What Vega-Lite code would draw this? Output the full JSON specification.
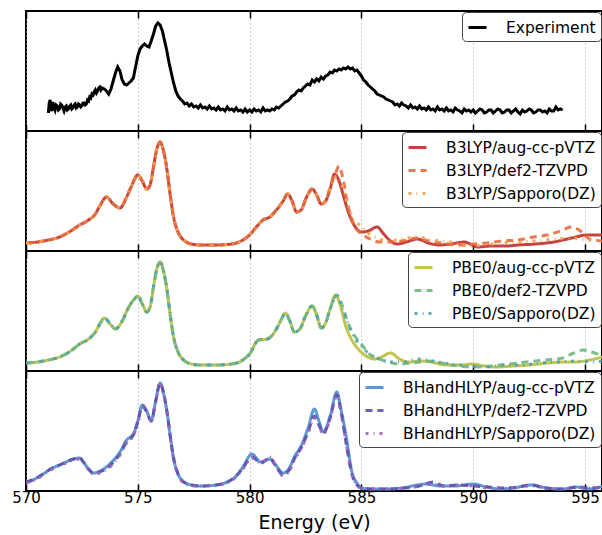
{
"$schema": "https://vega.github.io/schema/vega-lite/v6.json",
"padding": {"left": 10, "top": 9, "right": 0, "bottom": 0},
"background": "white",
"spacing": 0,
"bounds": "flush",
"config": {
  "view": {"stroke": "black", "strokeWidth": 2},
  "font": "DejaVu Sans",
  "axis": {"domain": false, "tickColor": "black", "tickWidth": 1.5, "tickSize": -7, "labelFlush": false, "labelFont": "DejaVu Sans", "labelFontSize": 15, "labelColor": "black", "titleFont": "DejaVu Sans", "titleFontSize": 19, "titleFontWeight": "normal", "titleColor": "black", "gridColor": "#999", "gridDash": [1, 3], "gridWidth": 1},
  "legend": {"orient": "top-right", "offset": 1, "fillColor": "white", "strokeColor": "#444", "cornerRadius": 4, "padding": 5, "symbolType": "stroke", "symbolSize": 324, "symbolStrokeWidth": 3, "labelFont": "DejaVu Sans", "labelFontSize": 15.5, "labelColor": "black", "labelLimit": 400, "labelOffset": 18, "rowPadding": 4, "title": null}
},
"datasets": {
"p1": [
{"s":"Experiment","x":571.0,"y":18},{"s":"Experiment","x":571.04,"y":28},{"s":"Experiment","x":571.08,"y":31},{"s":"Experiment","x":571.12,"y":22},{"s":"Experiment","x":571.15,"y":20},{"s":"Experiment","x":571.2,"y":29},{"s":"Experiment","x":571.25,"y":24},{"s":"Experiment","x":571.3,"y":21},{"s":"Experiment","x":571.35,"y":26},{"s":"Experiment","x":571.4,"y":25},{"s":"Experiment","x":571.45,"y":21},{"s":"Experiment","x":571.5,"y":22},{"s":"Experiment","x":571.55,"y":27},{"s":"Experiment","x":571.6,"y":26},{"s":"Experiment","x":571.65,"y":23},{"s":"Experiment","x":571.7,"y":20},{"s":"Experiment","x":571.75,"y":24},{"s":"Experiment","x":571.8,"y":25},{"s":"Experiment","x":571.85,"y":21},{"s":"Experiment","x":571.9,"y":22},{"s":"Experiment","x":571.95,"y":25},{"s":"Experiment","x":572.0,"y":26},{"s":"Experiment","x":572.05,"y":22},{"s":"Experiment","x":572.1,"y":23},{"s":"Experiment","x":572.15,"y":26},{"s":"Experiment","x":572.2,"y":27},{"s":"Experiment","x":572.25,"y":23},{"s":"Experiment","x":572.3,"y":24},{"s":"Experiment","x":572.35,"y":27},{"s":"Experiment","x":572.4,"y":26},{"s":"Experiment","x":572.45,"y":24},{"s":"Experiment","x":572.5,"y":25},{"s":"Experiment","x":572.55,"y":28},{"s":"Experiment","x":572.6,"y":28},{"s":"Experiment","x":572.65,"y":26},{"s":"Experiment","x":572.7,"y":27},{"s":"Experiment","x":572.75,"y":31},{"s":"Experiment","x":572.8,"y":30},{"s":"Experiment","x":572.85,"y":34},{"s":"Experiment","x":572.9,"y":33},{"s":"Experiment","x":572.95,"y":37},{"s":"Experiment","x":573.0,"y":36},{"s":"Experiment","x":573.05,"y":39},{"s":"Experiment","x":573.1,"y":41},{"s":"Experiment","x":573.15,"y":38},{"s":"Experiment","x":573.2,"y":40},{"s":"Experiment","x":573.25,"y":43},{"s":"Experiment","x":573.3,"y":44},{"s":"Experiment","x":573.35,"y":41},{"s":"Experiment","x":573.4,"y":43},{"s":"Experiment","x":573.5,"y":42},{"s":"Experiment","x":573.6,"y":40},{"s":"Experiment","x":573.7,"y":37},{"s":"Experiment","x":573.8,"y":42},{"s":"Experiment","x":573.9,"y":50},{"s":"Experiment","x":574.0,"y":58},{"s":"Experiment","x":574.1,"y":64},{"s":"Experiment","x":574.2,"y":60},{"s":"Experiment","x":574.3,"y":51},{"s":"Experiment","x":574.4,"y":47},{"s":"Experiment","x":574.5,"y":46},{"s":"Experiment","x":574.6,"y":48},{"s":"Experiment","x":574.7,"y":50},{"s":"Experiment","x":574.8,"y":53},{"s":"Experiment","x":574.9,"y":64},{"s":"Experiment","x":575.0,"y":75},{"s":"Experiment","x":575.1,"y":82},{"s":"Experiment","x":575.2,"y":85},{"s":"Experiment","x":575.3,"y":87},{"s":"Experiment","x":575.4,"y":85},{"s":"Experiment","x":575.5,"y":84},{"s":"Experiment","x":575.6,"y":90},{"s":"Experiment","x":575.7,"y":97},{"s":"Experiment","x":575.8,"y":105},{"s":"Experiment","x":575.9,"y":108},{"s":"Experiment","x":576.0,"y":106},{"s":"Experiment","x":576.1,"y":100},{"s":"Experiment","x":576.2,"y":90},{"s":"Experiment","x":576.3,"y":80},{"s":"Experiment","x":576.4,"y":68},{"s":"Experiment","x":576.5,"y":58},{"s":"Experiment","x":576.6,"y":48},{"s":"Experiment","x":576.7,"y":40},{"s":"Experiment","x":576.8,"y":35},{"s":"Experiment","x":576.9,"y":32},{"s":"Experiment","x":577.0,"y":30},{"s":"Experiment","x":577.1,"y":27},{"s":"Experiment","x":577.2,"y":28},{"s":"Experiment","x":577.3,"y":25},{"s":"Experiment","x":577.4,"y":27},{"s":"Experiment","x":577.5,"y":24},{"s":"Experiment","x":577.6,"y":25},{"s":"Experiment","x":577.7,"y":23},{"s":"Experiment","x":577.8,"y":26},{"s":"Experiment","x":577.9,"y":23},{"s":"Experiment","x":578.0,"y":24},{"s":"Experiment","x":578.1,"y":22},{"s":"Experiment","x":578.2,"y":25},{"s":"Experiment","x":578.3,"y":22},{"s":"Experiment","x":578.4,"y":23},{"s":"Experiment","x":578.5,"y":21},{"s":"Experiment","x":578.6,"y":24},{"s":"Experiment","x":578.7,"y":21},{"s":"Experiment","x":578.8,"y":22},{"s":"Experiment","x":578.9,"y":20},{"s":"Experiment","x":579.0,"y":24},{"s":"Experiment","x":579.1,"y":21},{"s":"Experiment","x":579.2,"y":22},{"s":"Experiment","x":579.3,"y":20},{"s":"Experiment","x":579.4,"y":23},{"s":"Experiment","x":579.5,"y":20},{"s":"Experiment","x":579.6,"y":21},{"s":"Experiment","x":579.7,"y":19},{"s":"Experiment","x":579.8,"y":22},{"s":"Experiment","x":579.9,"y":19},{"s":"Experiment","x":580.0,"y":21},{"s":"Experiment","x":580.1,"y":19},{"s":"Experiment","x":580.2,"y":22},{"s":"Experiment","x":580.3,"y":20},{"s":"Experiment","x":580.4,"y":21},{"s":"Experiment","x":580.5,"y":19},{"s":"Experiment","x":580.6,"y":23},{"s":"Experiment","x":580.7,"y":20},{"s":"Experiment","x":580.8,"y":21},{"s":"Experiment","x":580.9,"y":20},{"s":"Experiment","x":581.0,"y":22},{"s":"Experiment","x":581.1,"y":21},{"s":"Experiment","x":581.2,"y":24},{"s":"Experiment","x":581.3,"y":23},{"s":"Experiment","x":581.4,"y":25},{"s":"Experiment","x":581.5,"y":27},{"s":"Experiment","x":581.6,"y":29},{"s":"Experiment","x":581.7,"y":30},{"s":"Experiment","x":581.8,"y":32},{"s":"Experiment","x":581.9,"y":35},{"s":"Experiment","x":582.0,"y":36},{"s":"Experiment","x":582.1,"y":39},{"s":"Experiment","x":582.2,"y":41},{"s":"Experiment","x":582.3,"y":40},{"s":"Experiment","x":582.4,"y":43},{"s":"Experiment","x":582.5,"y":45},{"s":"Experiment","x":582.6,"y":47},{"s":"Experiment","x":582.7,"y":46},{"s":"Experiment","x":582.8,"y":51},{"s":"Experiment","x":582.9,"y":49},{"s":"Experiment","x":583.0,"y":52},{"s":"Experiment","x":583.1,"y":50},{"s":"Experiment","x":583.2,"y":54},{"s":"Experiment","x":583.3,"y":52},{"s":"Experiment","x":583.4,"y":55},{"s":"Experiment","x":583.5,"y":56},{"s":"Experiment","x":583.6,"y":59},{"s":"Experiment","x":583.7,"y":58},{"s":"Experiment","x":583.8,"y":61},{"s":"Experiment","x":583.9,"y":60},{"s":"Experiment","x":584.0,"y":62},{"s":"Experiment","x":584.1,"y":61},{"s":"Experiment","x":584.2,"y":63},{"s":"Experiment","x":584.3,"y":62},{"s":"Experiment","x":584.4,"y":64},{"s":"Experiment","x":584.5,"y":62},{"s":"Experiment","x":584.6,"y":63},{"s":"Experiment","x":584.7,"y":60},{"s":"Experiment","x":584.8,"y":61},{"s":"Experiment","x":584.9,"y":58},{"s":"Experiment","x":585.0,"y":55},{"s":"Experiment","x":585.1,"y":51},{"s":"Experiment","x":585.2,"y":49},{"s":"Experiment","x":585.3,"y":46},{"s":"Experiment","x":585.4,"y":44},{"s":"Experiment","x":585.5,"y":42},{"s":"Experiment","x":585.6,"y":40},{"s":"Experiment","x":585.7,"y":37},{"s":"Experiment","x":585.8,"y":36},{"s":"Experiment","x":585.9,"y":35},{"s":"Experiment","x":586.0,"y":34},{"s":"Experiment","x":586.1,"y":32},{"s":"Experiment","x":586.2,"y":31},{"s":"Experiment","x":586.3,"y":30},{"s":"Experiment","x":586.4,"y":29},{"s":"Experiment","x":586.5,"y":26},{"s":"Experiment","x":586.6,"y":27},{"s":"Experiment","x":586.7,"y":25},{"s":"Experiment","x":586.8,"y":28},{"s":"Experiment","x":586.9,"y":26},{"s":"Experiment","x":587.0,"y":25},{"s":"Experiment","x":587.1,"y":23},{"s":"Experiment","x":587.2,"y":26},{"s":"Experiment","x":587.3,"y":23},{"s":"Experiment","x":587.4,"y":24},{"s":"Experiment","x":587.5,"y":22},{"s":"Experiment","x":587.6,"y":25},{"s":"Experiment","x":587.7,"y":22},{"s":"Experiment","x":587.8,"y":23},{"s":"Experiment","x":587.9,"y":21},{"s":"Experiment","x":588.0,"y":24},{"s":"Experiment","x":588.1,"y":21},{"s":"Experiment","x":588.2,"y":22},{"s":"Experiment","x":588.3,"y":20},{"s":"Experiment","x":588.4,"y":24},{"s":"Experiment","x":588.5,"y":21},{"s":"Experiment","x":588.6,"y":22},{"s":"Experiment","x":588.7,"y":20},{"s":"Experiment","x":588.8,"y":23},{"s":"Experiment","x":588.9,"y":20},{"s":"Experiment","x":589.0,"y":21},{"s":"Experiment","x":589.1,"y":19},{"s":"Experiment","x":589.2,"y":23},{"s":"Experiment","x":589.3,"y":21},{"s":"Experiment","x":589.4,"y":20},{"s":"Experiment","x":589.5,"y":18},{"s":"Experiment","x":589.6,"y":22},{"s":"Experiment","x":589.7,"y":20},{"s":"Experiment","x":589.8,"y":21},{"s":"Experiment","x":589.9,"y":19},{"s":"Experiment","x":590.0,"y":21},{"s":"Experiment","x":590.1,"y":18},{"s":"Experiment","x":590.2,"y":20},{"s":"Experiment","x":590.3,"y":22},{"s":"Experiment","x":590.4,"y":21},{"s":"Experiment","x":590.5,"y":18},{"s":"Experiment","x":590.6,"y":19},{"s":"Experiment","x":590.7,"y":21},{"s":"Experiment","x":590.8,"y":21},{"s":"Experiment","x":590.9,"y":18},{"s":"Experiment","x":591.0,"y":20},{"s":"Experiment","x":591.1,"y":22},{"s":"Experiment","x":591.2,"y":21},{"s":"Experiment","x":591.3,"y":18},{"s":"Experiment","x":591.4,"y":19},{"s":"Experiment","x":591.5,"y":21},{"s":"Experiment","x":591.6,"y":21},{"s":"Experiment","x":591.7,"y":18},{"s":"Experiment","x":591.8,"y":20},{"s":"Experiment","x":591.9,"y":22},{"s":"Experiment","x":592.0,"y":19},{"s":"Experiment","x":592.1,"y":17},{"s":"Experiment","x":592.2,"y":21},{"s":"Experiment","x":592.3,"y":19},{"s":"Experiment","x":592.4,"y":20},{"s":"Experiment","x":592.5,"y":22},{"s":"Experiment","x":592.6,"y":21},{"s":"Experiment","x":592.7,"y":18},{"s":"Experiment","x":592.8,"y":19},{"s":"Experiment","x":592.9,"y":21},{"s":"Experiment","x":593.0,"y":21},{"s":"Experiment","x":593.1,"y":19},{"s":"Experiment","x":593.2,"y":20},{"s":"Experiment","x":593.3,"y":18},{"s":"Experiment","x":593.4,"y":22},{"s":"Experiment","x":593.5,"y":20},{"s":"Experiment","x":593.6,"y":20},{"s":"Experiment","x":593.7,"y":24},{"s":"Experiment","x":593.8,"y":21},{"s":"Experiment","x":593.9,"y":22},{"s":"Experiment","x":594.0,"y":21}
],
"p2": [
{"s":"B3LYP/aug-cc-pVTZ","x":570.0,"y":8},{"s":"B3LYP/aug-cc-pVTZ","x":570.5,"y":9},{"s":"B3LYP/aug-cc-pVTZ","x":571.0,"y":11},{"s":"B3LYP/aug-cc-pVTZ","x":571.5,"y":14},{"s":"B3LYP/aug-cc-pVTZ","x":572.0,"y":20},{"s":"B3LYP/aug-cc-pVTZ","x":572.4,"y":26},{"s":"B3LYP/aug-cc-pVTZ","x":572.8,"y":31},{"s":"B3LYP/aug-cc-pVTZ","x":573.1,"y":37},{"s":"B3LYP/aug-cc-pVTZ","x":573.3,"y":45},{"s":"B3LYP/aug-cc-pVTZ","x":573.6,"y":54},{"s":"B3LYP/aug-cc-pVTZ","x":573.9,"y":47},{"s":"B3LYP/aug-cc-pVTZ","x":574.2,"y":43},{"s":"B3LYP/aug-cc-pVTZ","x":574.5,"y":54},{"s":"B3LYP/aug-cc-pVTZ","x":574.7,"y":64},{"s":"B3LYP/aug-cc-pVTZ","x":575.0,"y":76},{"s":"B3LYP/aug-cc-pVTZ","x":575.2,"y":70},{"s":"B3LYP/aug-cc-pVTZ","x":575.4,"y":62},{"s":"B3LYP/aug-cc-pVTZ","x":575.55,"y":66},{"s":"B3LYP/aug-cc-pVTZ","x":575.7,"y":84},{"s":"B3LYP/aug-cc-pVTZ","x":575.85,"y":102},{"s":"B3LYP/aug-cc-pVTZ","x":576.0,"y":109},{"s":"B3LYP/aug-cc-pVTZ","x":576.15,"y":100},{"s":"B3LYP/aug-cc-pVTZ","x":576.3,"y":82},{"s":"B3LYP/aug-cc-pVTZ","x":576.45,"y":56},{"s":"B3LYP/aug-cc-pVTZ","x":576.6,"y":34},{"s":"B3LYP/aug-cc-pVTZ","x":576.8,"y":19},{"s":"B3LYP/aug-cc-pVTZ","x":577.0,"y":12},{"s":"B3LYP/aug-cc-pVTZ","x":577.4,"y":7},{"s":"B3LYP/aug-cc-pVTZ","x":577.8,"y":6},{"s":"B3LYP/aug-cc-pVTZ","x":578.5,"y":6},{"s":"B3LYP/aug-cc-pVTZ","x":579.2,"y":7},{"s":"B3LYP/aug-cc-pVTZ","x":579.7,"y":11},{"s":"B3LYP/aug-cc-pVTZ","x":580.0,"y":16},{"s":"B3LYP/aug-cc-pVTZ","x":580.3,"y":24},{"s":"B3LYP/aug-cc-pVTZ","x":580.6,"y":31},{"s":"B3LYP/aug-cc-pVTZ","x":580.9,"y":34},{"s":"B3LYP/aug-cc-pVTZ","x":581.2,"y":41},{"s":"B3LYP/aug-cc-pVTZ","x":581.5,"y":50},{"s":"B3LYP/aug-cc-pVTZ","x":581.7,"y":57},{"s":"B3LYP/aug-cc-pVTZ","x":581.9,"y":50},{"s":"B3LYP/aug-cc-pVTZ","x":582.1,"y":39},{"s":"B3LYP/aug-cc-pVTZ","x":582.3,"y":41},{"s":"B3LYP/aug-cc-pVTZ","x":582.55,"y":54},{"s":"B3LYP/aug-cc-pVTZ","x":582.8,"y":62},{"s":"B3LYP/aug-cc-pVTZ","x":583.0,"y":56},{"s":"B3LYP/aug-cc-pVTZ","x":583.2,"y":47},{"s":"B3LYP/aug-cc-pVTZ","x":583.4,"y":50},{"s":"B3LYP/aug-cc-pVTZ","x":583.6,"y":62},{"s":"B3LYP/aug-cc-pVTZ","x":583.8,"y":77},{"s":"B3LYP/aug-cc-pVTZ","x":584.0,"y":70},{"s":"B3LYP/aug-cc-pVTZ","x":584.2,"y":55},{"s":"B3LYP/aug-cc-pVTZ","x":584.4,"y":40},{"s":"B3LYP/aug-cc-pVTZ","x":584.7,"y":25},{"s":"B3LYP/aug-cc-pVTZ","x":585.0,"y":19},{"s":"B3LYP/aug-cc-pVTZ","x":585.3,"y":20},{"s":"B3LYP/aug-cc-pVTZ","x":585.7,"y":24},{"s":"B3LYP/aug-cc-pVTZ","x":586.0,"y":17},{"s":"B3LYP/aug-cc-pVTZ","x":586.3,"y":10},{"s":"B3LYP/aug-cc-pVTZ","x":586.6,"y":7},{"s":"B3LYP/aug-cc-pVTZ","x":587.0,"y":9},{"s":"B3LYP/aug-cc-pVTZ","x":587.5,"y":12},{"s":"B3LYP/aug-cc-pVTZ","x":588.0,"y":8},{"s":"B3LYP/aug-cc-pVTZ","x":588.5,"y":6},{"s":"B3LYP/aug-cc-pVTZ","x":589.0,"y":7},{"s":"B3LYP/aug-cc-pVTZ","x":589.6,"y":9},{"s":"B3LYP/aug-cc-pVTZ","x":590.2,"y":4},{"s":"B3LYP/aug-cc-pVTZ","x":590.8,"y":5},{"s":"B3LYP/aug-cc-pVTZ","x":591.5,"y":5},{"s":"B3LYP/aug-cc-pVTZ","x":592.0,"y":6},{"s":"B3LYP/aug-cc-pVTZ","x":592.8,"y":7},{"s":"B3LYP/aug-cc-pVTZ","x":593.6,"y":9},{"s":"B3LYP/aug-cc-pVTZ","x":594.4,"y":13},{"s":"B3LYP/aug-cc-pVTZ","x":595.1,"y":16},{"s":"B3LYP/aug-cc-pVTZ","x":595.8,"y":16},
{"s":"B3LYP/def2-TZVPD","x":570.0,"y":8},{"s":"B3LYP/def2-TZVPD","x":570.5,"y":9},{"s":"B3LYP/def2-TZVPD","x":571.0,"y":11},{"s":"B3LYP/def2-TZVPD","x":571.5,"y":14},{"s":"B3LYP/def2-TZVPD","x":572.0,"y":20},{"s":"B3LYP/def2-TZVPD","x":572.4,"y":26},{"s":"B3LYP/def2-TZVPD","x":572.8,"y":31},{"s":"B3LYP/def2-TZVPD","x":573.1,"y":37},{"s":"B3LYP/def2-TZVPD","x":573.3,"y":45},{"s":"B3LYP/def2-TZVPD","x":573.6,"y":54},{"s":"B3LYP/def2-TZVPD","x":573.9,"y":47},{"s":"B3LYP/def2-TZVPD","x":574.2,"y":43},{"s":"B3LYP/def2-TZVPD","x":574.5,"y":54},{"s":"B3LYP/def2-TZVPD","x":574.7,"y":64},{"s":"B3LYP/def2-TZVPD","x":575.0,"y":76},{"s":"B3LYP/def2-TZVPD","x":575.2,"y":70},{"s":"B3LYP/def2-TZVPD","x":575.4,"y":62},{"s":"B3LYP/def2-TZVPD","x":575.55,"y":66},{"s":"B3LYP/def2-TZVPD","x":575.7,"y":84},{"s":"B3LYP/def2-TZVPD","x":575.85,"y":102},{"s":"B3LYP/def2-TZVPD","x":576.0,"y":109},{"s":"B3LYP/def2-TZVPD","x":576.15,"y":100},{"s":"B3LYP/def2-TZVPD","x":576.3,"y":82},{"s":"B3LYP/def2-TZVPD","x":576.45,"y":56},{"s":"B3LYP/def2-TZVPD","x":576.6,"y":34},{"s":"B3LYP/def2-TZVPD","x":576.8,"y":19},{"s":"B3LYP/def2-TZVPD","x":577.0,"y":12},{"s":"B3LYP/def2-TZVPD","x":577.4,"y":7},{"s":"B3LYP/def2-TZVPD","x":577.8,"y":6},{"s":"B3LYP/def2-TZVPD","x":578.5,"y":6},{"s":"B3LYP/def2-TZVPD","x":579.2,"y":7},{"s":"B3LYP/def2-TZVPD","x":579.7,"y":11},{"s":"B3LYP/def2-TZVPD","x":580.0,"y":16},{"s":"B3LYP/def2-TZVPD","x":580.3,"y":24},{"s":"B3LYP/def2-TZVPD","x":580.6,"y":31},{"s":"B3LYP/def2-TZVPD","x":580.9,"y":34},{"s":"B3LYP/def2-TZVPD","x":581.2,"y":41},{"s":"B3LYP/def2-TZVPD","x":581.5,"y":50},{"s":"B3LYP/def2-TZVPD","x":581.7,"y":57},{"s":"B3LYP/def2-TZVPD","x":581.9,"y":50},{"s":"B3LYP/def2-TZVPD","x":582.1,"y":39},{"s":"B3LYP/def2-TZVPD","x":582.3,"y":41},{"s":"B3LYP/def2-TZVPD","x":582.55,"y":54},{"s":"B3LYP/def2-TZVPD","x":582.8,"y":62},{"s":"B3LYP/def2-TZVPD","x":583.0,"y":56},{"s":"B3LYP/def2-TZVPD","x":583.2,"y":47},{"s":"B3LYP/def2-TZVPD","x":583.4,"y":50},{"s":"B3LYP/def2-TZVPD","x":583.6,"y":64},{"s":"B3LYP/def2-TZVPD","x":583.85,"y":78},{"s":"B3LYP/def2-TZVPD","x":584.0,"y":85},{"s":"B3LYP/def2-TZVPD","x":584.15,"y":75},{"s":"B3LYP/def2-TZVPD","x":584.4,"y":45},{"s":"B3LYP/def2-TZVPD","x":584.7,"y":25},{"s":"B3LYP/def2-TZVPD","x":585.0,"y":17},{"s":"B3LYP/def2-TZVPD","x":585.4,"y":12},{"s":"B3LYP/def2-TZVPD","x":585.8,"y":9},{"s":"B3LYP/def2-TZVPD","x":586.3,"y":9},{"s":"B3LYP/def2-TZVPD","x":586.8,"y":10},{"s":"B3LYP/def2-TZVPD","x":587.5,"y":13},{"s":"B3LYP/def2-TZVPD","x":588.0,"y":10},{"s":"B3LYP/def2-TZVPD","x":588.6,"y":8},{"s":"B3LYP/def2-TZVPD","x":589.3,"y":6},{"s":"B3LYP/def2-TZVPD","x":590.0,"y":7},{"s":"B3LYP/def2-TZVPD","x":590.6,"y":8},{"s":"B3LYP/def2-TZVPD","x":591.3,"y":10},{"s":"B3LYP/def2-TZVPD","x":592.0,"y":11},{"s":"B3LYP/def2-TZVPD","x":592.7,"y":14},{"s":"B3LYP/def2-TZVPD","x":593.3,"y":16},{"s":"B3LYP/def2-TZVPD","x":593.9,"y":20},{"s":"B3LYP/def2-TZVPD","x":594.4,"y":24},{"s":"B3LYP/def2-TZVPD","x":594.8,"y":20},{"s":"B3LYP/def2-TZVPD","x":595.2,"y":12},{"s":"B3LYP/def2-TZVPD","x":595.8,"y":10},
{"s":"B3LYP/Sapporo(DZ)","x":570.0,"y":8},{"s":"B3LYP/Sapporo(DZ)","x":570.5,"y":9},{"s":"B3LYP/Sapporo(DZ)","x":571.0,"y":11},{"s":"B3LYP/Sapporo(DZ)","x":571.5,"y":14},{"s":"B3LYP/Sapporo(DZ)","x":572.0,"y":20},{"s":"B3LYP/Sapporo(DZ)","x":572.4,"y":26},{"s":"B3LYP/Sapporo(DZ)","x":572.8,"y":31},{"s":"B3LYP/Sapporo(DZ)","x":573.1,"y":37},{"s":"B3LYP/Sapporo(DZ)","x":573.3,"y":45},{"s":"B3LYP/Sapporo(DZ)","x":573.6,"y":54},{"s":"B3LYP/Sapporo(DZ)","x":573.9,"y":47},{"s":"B3LYP/Sapporo(DZ)","x":574.2,"y":43},{"s":"B3LYP/Sapporo(DZ)","x":574.5,"y":54},{"s":"B3LYP/Sapporo(DZ)","x":574.7,"y":64},{"s":"B3LYP/Sapporo(DZ)","x":575.0,"y":76},{"s":"B3LYP/Sapporo(DZ)","x":575.2,"y":70},{"s":"B3LYP/Sapporo(DZ)","x":575.4,"y":62},{"s":"B3LYP/Sapporo(DZ)","x":575.55,"y":66},{"s":"B3LYP/Sapporo(DZ)","x":575.7,"y":84},{"s":"B3LYP/Sapporo(DZ)","x":575.85,"y":102},{"s":"B3LYP/Sapporo(DZ)","x":576.0,"y":109},{"s":"B3LYP/Sapporo(DZ)","x":576.15,"y":100},{"s":"B3LYP/Sapporo(DZ)","x":576.3,"y":82},{"s":"B3LYP/Sapporo(DZ)","x":576.45,"y":56},{"s":"B3LYP/Sapporo(DZ)","x":576.6,"y":34},{"s":"B3LYP/Sapporo(DZ)","x":576.8,"y":19},{"s":"B3LYP/Sapporo(DZ)","x":577.0,"y":12},{"s":"B3LYP/Sapporo(DZ)","x":577.4,"y":7},{"s":"B3LYP/Sapporo(DZ)","x":577.8,"y":6},{"s":"B3LYP/Sapporo(DZ)","x":578.5,"y":6},{"s":"B3LYP/Sapporo(DZ)","x":579.2,"y":7},{"s":"B3LYP/Sapporo(DZ)","x":579.7,"y":11},{"s":"B3LYP/Sapporo(DZ)","x":580.0,"y":16},{"s":"B3LYP/Sapporo(DZ)","x":580.3,"y":24},{"s":"B3LYP/Sapporo(DZ)","x":580.6,"y":31},{"s":"B3LYP/Sapporo(DZ)","x":580.9,"y":34},{"s":"B3LYP/Sapporo(DZ)","x":581.2,"y":41},{"s":"B3LYP/Sapporo(DZ)","x":581.5,"y":50},{"s":"B3LYP/Sapporo(DZ)","x":581.7,"y":57},{"s":"B3LYP/Sapporo(DZ)","x":581.9,"y":50},{"s":"B3LYP/Sapporo(DZ)","x":582.1,"y":39},{"s":"B3LYP/Sapporo(DZ)","x":582.3,"y":41},{"s":"B3LYP/Sapporo(DZ)","x":582.55,"y":54},{"s":"B3LYP/Sapporo(DZ)","x":582.8,"y":62},{"s":"B3LYP/Sapporo(DZ)","x":583.0,"y":56},{"s":"B3LYP/Sapporo(DZ)","x":583.2,"y":47},{"s":"B3LYP/Sapporo(DZ)","x":583.4,"y":50},{"s":"B3LYP/Sapporo(DZ)","x":583.6,"y":62},{"s":"B3LYP/Sapporo(DZ)","x":583.9,"y":75},{"s":"B3LYP/Sapporo(DZ)","x":584.1,"y":68},{"s":"B3LYP/Sapporo(DZ)","x":584.4,"y":45},{"s":"B3LYP/Sapporo(DZ)","x":584.7,"y":30},{"s":"B3LYP/Sapporo(DZ)","x":585.0,"y":25},{"s":"B3LYP/Sapporo(DZ)","x":585.3,"y":18},{"s":"B3LYP/Sapporo(DZ)","x":585.7,"y":13},{"s":"B3LYP/Sapporo(DZ)","x":586.2,"y":10},{"s":"B3LYP/Sapporo(DZ)","x":586.8,"y":12},{"s":"B3LYP/Sapporo(DZ)","x":587.5,"y":14},{"s":"B3LYP/Sapporo(DZ)","x":588.2,"y":11},{"s":"B3LYP/Sapporo(DZ)","x":589.0,"y":9},{"s":"B3LYP/Sapporo(DZ)","x":589.8,"y":5},{"s":"B3LYP/Sapporo(DZ)","x":590.5,"y":6},{"s":"B3LYP/Sapporo(DZ)","x":591.3,"y":8},{"s":"B3LYP/Sapporo(DZ)","x":592.0,"y":9},{"s":"B3LYP/Sapporo(DZ)","x":592.8,"y":10},{"s":"B3LYP/Sapporo(DZ)","x":593.6,"y":12},{"s":"B3LYP/Sapporo(DZ)","x":594.4,"y":13},{"s":"B3LYP/Sapporo(DZ)","x":595.2,"y":11},{"s":"B3LYP/Sapporo(DZ)","x":595.8,"y":11}
],
"p3": [
{"s":"PBE0/aug-cc-pVTZ","x":570.0,"y":8},{"s":"PBE0/aug-cc-pVTZ","x":570.5,"y":9},{"s":"PBE0/aug-cc-pVTZ","x":571.0,"y":11},{"s":"PBE0/aug-cc-pVTZ","x":571.5,"y":14},{"s":"PBE0/aug-cc-pVTZ","x":572.0,"y":20},{"s":"PBE0/aug-cc-pVTZ","x":572.4,"y":27},{"s":"PBE0/aug-cc-pVTZ","x":572.8,"y":32},{"s":"PBE0/aug-cc-pVTZ","x":573.1,"y":39},{"s":"PBE0/aug-cc-pVTZ","x":573.3,"y":47},{"s":"PBE0/aug-cc-pVTZ","x":573.5,"y":53},{"s":"PBE0/aug-cc-pVTZ","x":573.8,"y":46},{"s":"PBE0/aug-cc-pVTZ","x":574.0,"y":42},{"s":"PBE0/aug-cc-pVTZ","x":574.3,"y":50},{"s":"PBE0/aug-cc-pVTZ","x":574.6,"y":64},{"s":"PBE0/aug-cc-pVTZ","x":574.85,"y":72},{"s":"PBE0/aug-cc-pVTZ","x":575.0,"y":75},{"s":"PBE0/aug-cc-pVTZ","x":575.2,"y":67},{"s":"PBE0/aug-cc-pVTZ","x":575.4,"y":59},{"s":"PBE0/aug-cc-pVTZ","x":575.55,"y":64},{"s":"PBE0/aug-cc-pVTZ","x":575.7,"y":84},{"s":"PBE0/aug-cc-pVTZ","x":575.85,"y":102},{"s":"PBE0/aug-cc-pVTZ","x":576.0,"y":109},{"s":"PBE0/aug-cc-pVTZ","x":576.15,"y":100},{"s":"PBE0/aug-cc-pVTZ","x":576.3,"y":82},{"s":"PBE0/aug-cc-pVTZ","x":576.45,"y":56},{"s":"PBE0/aug-cc-pVTZ","x":576.6,"y":34},{"s":"PBE0/aug-cc-pVTZ","x":576.8,"y":19},{"s":"PBE0/aug-cc-pVTZ","x":577.0,"y":12},{"s":"PBE0/aug-cc-pVTZ","x":577.4,"y":7},{"s":"PBE0/aug-cc-pVTZ","x":577.8,"y":6},{"s":"PBE0/aug-cc-pVTZ","x":578.5,"y":6},{"s":"PBE0/aug-cc-pVTZ","x":579.2,"y":7},{"s":"PBE0/aug-cc-pVTZ","x":579.7,"y":11},{"s":"PBE0/aug-cc-pVTZ","x":580.0,"y":17},{"s":"PBE0/aug-cc-pVTZ","x":580.4,"y":31},{"s":"PBE0/aug-cc-pVTZ","x":580.8,"y":32},{"s":"PBE0/aug-cc-pVTZ","x":581.2,"y":42},{"s":"PBE0/aug-cc-pVTZ","x":581.45,"y":53},{"s":"PBE0/aug-cc-pVTZ","x":581.6,"y":58},{"s":"PBE0/aug-cc-pVTZ","x":581.8,"y":50},{"s":"PBE0/aug-cc-pVTZ","x":582.0,"y":39},{"s":"PBE0/aug-cc-pVTZ","x":582.25,"y":42},{"s":"PBE0/aug-cc-pVTZ","x":582.5,"y":55},{"s":"PBE0/aug-cc-pVTZ","x":582.8,"y":65},{"s":"PBE0/aug-cc-pVTZ","x":583.0,"y":56},{"s":"PBE0/aug-cc-pVTZ","x":583.2,"y":43},{"s":"PBE0/aug-cc-pVTZ","x":583.4,"y":48},{"s":"PBE0/aug-cc-pVTZ","x":583.6,"y":62},{"s":"PBE0/aug-cc-pVTZ","x":583.85,"y":76},{"s":"PBE0/aug-cc-pVTZ","x":584.05,"y":66},{"s":"PBE0/aug-cc-pVTZ","x":584.3,"y":45},{"s":"PBE0/aug-cc-pVTZ","x":584.6,"y":30},{"s":"PBE0/aug-cc-pVTZ","x":584.9,"y":21},{"s":"PBE0/aug-cc-pVTZ","x":585.2,"y":15},{"s":"PBE0/aug-cc-pVTZ","x":585.6,"y":12},{"s":"PBE0/aug-cc-pVTZ","x":585.9,"y":14},{"s":"PBE0/aug-cc-pVTZ","x":586.3,"y":18},{"s":"PBE0/aug-cc-pVTZ","x":586.7,"y":12},{"s":"PBE0/aug-cc-pVTZ","x":587.1,"y":9},{"s":"PBE0/aug-cc-pVTZ","x":587.6,"y":10},{"s":"PBE0/aug-cc-pVTZ","x":588.1,"y":9},{"s":"PBE0/aug-cc-pVTZ","x":588.8,"y":6},{"s":"PBE0/aug-cc-pVTZ","x":589.4,"y":6},{"s":"PBE0/aug-cc-pVTZ","x":590.0,"y":7},{"s":"PBE0/aug-cc-pVTZ","x":590.5,"y":5},{"s":"PBE0/aug-cc-pVTZ","x":591.0,"y":4},{"s":"PBE0/aug-cc-pVTZ","x":591.8,"y":5},{"s":"PBE0/aug-cc-pVTZ","x":592.5,"y":6},{"s":"PBE0/aug-cc-pVTZ","x":593.3,"y":8},{"s":"PBE0/aug-cc-pVTZ","x":594.0,"y":9},{"s":"PBE0/aug-cc-pVTZ","x":594.6,"y":9},{"s":"PBE0/aug-cc-pVTZ","x":595.2,"y":11},{"s":"PBE0/aug-cc-pVTZ","x":595.8,"y":14},
{"s":"PBE0/def2-TZVPD","x":570.0,"y":8},{"s":"PBE0/def2-TZVPD","x":570.5,"y":9},{"s":"PBE0/def2-TZVPD","x":571.0,"y":11},{"s":"PBE0/def2-TZVPD","x":571.5,"y":14},{"s":"PBE0/def2-TZVPD","x":572.0,"y":20},{"s":"PBE0/def2-TZVPD","x":572.4,"y":27},{"s":"PBE0/def2-TZVPD","x":572.8,"y":32},{"s":"PBE0/def2-TZVPD","x":573.1,"y":39},{"s":"PBE0/def2-TZVPD","x":573.3,"y":47},{"s":"PBE0/def2-TZVPD","x":573.5,"y":53},{"s":"PBE0/def2-TZVPD","x":573.8,"y":46},{"s":"PBE0/def2-TZVPD","x":574.0,"y":42},{"s":"PBE0/def2-TZVPD","x":574.3,"y":50},{"s":"PBE0/def2-TZVPD","x":574.6,"y":64},{"s":"PBE0/def2-TZVPD","x":574.85,"y":72},{"s":"PBE0/def2-TZVPD","x":575.0,"y":75},{"s":"PBE0/def2-TZVPD","x":575.2,"y":67},{"s":"PBE0/def2-TZVPD","x":575.4,"y":59},{"s":"PBE0/def2-TZVPD","x":575.55,"y":64},{"s":"PBE0/def2-TZVPD","x":575.7,"y":84},{"s":"PBE0/def2-TZVPD","x":575.85,"y":102},{"s":"PBE0/def2-TZVPD","x":576.0,"y":109},{"s":"PBE0/def2-TZVPD","x":576.15,"y":100},{"s":"PBE0/def2-TZVPD","x":576.3,"y":82},{"s":"PBE0/def2-TZVPD","x":576.45,"y":56},{"s":"PBE0/def2-TZVPD","x":576.6,"y":34},{"s":"PBE0/def2-TZVPD","x":576.8,"y":19},{"s":"PBE0/def2-TZVPD","x":577.0,"y":12},{"s":"PBE0/def2-TZVPD","x":577.4,"y":7},{"s":"PBE0/def2-TZVPD","x":577.8,"y":6},{"s":"PBE0/def2-TZVPD","x":578.5,"y":6},{"s":"PBE0/def2-TZVPD","x":579.2,"y":7},{"s":"PBE0/def2-TZVPD","x":579.7,"y":11},{"s":"PBE0/def2-TZVPD","x":580.0,"y":17},{"s":"PBE0/def2-TZVPD","x":580.4,"y":31},{"s":"PBE0/def2-TZVPD","x":580.8,"y":32},{"s":"PBE0/def2-TZVPD","x":581.2,"y":42},{"s":"PBE0/def2-TZVPD","x":581.45,"y":53},{"s":"PBE0/def2-TZVPD","x":581.6,"y":58},{"s":"PBE0/def2-TZVPD","x":581.8,"y":50},{"s":"PBE0/def2-TZVPD","x":582.0,"y":39},{"s":"PBE0/def2-TZVPD","x":582.25,"y":42},{"s":"PBE0/def2-TZVPD","x":582.5,"y":55},{"s":"PBE0/def2-TZVPD","x":582.8,"y":65},{"s":"PBE0/def2-TZVPD","x":583.0,"y":56},{"s":"PBE0/def2-TZVPD","x":583.2,"y":43},{"s":"PBE0/def2-TZVPD","x":583.4,"y":48},{"s":"PBE0/def2-TZVPD","x":583.6,"y":62},{"s":"PBE0/def2-TZVPD","x":583.9,"y":76},{"s":"PBE0/def2-TZVPD","x":584.1,"y":68},{"s":"PBE0/def2-TZVPD","x":584.4,"y":48},{"s":"PBE0/def2-TZVPD","x":584.7,"y":35},{"s":"PBE0/def2-TZVPD","x":585.0,"y":27},{"s":"PBE0/def2-TZVPD","x":585.3,"y":18},{"s":"PBE0/def2-TZVPD","x":585.7,"y":13},{"s":"PBE0/def2-TZVPD","x":586.2,"y":9},{"s":"PBE0/def2-TZVPD","x":586.7,"y":7},{"s":"PBE0/def2-TZVPD","x":587.3,"y":8},{"s":"PBE0/def2-TZVPD","x":588.0,"y":10},{"s":"PBE0/def2-TZVPD","x":588.6,"y":8},{"s":"PBE0/def2-TZVPD","x":589.3,"y":5},{"s":"PBE0/def2-TZVPD","x":590.0,"y":4},{"s":"PBE0/def2-TZVPD","x":590.8,"y":5},{"s":"PBE0/def2-TZVPD","x":591.6,"y":7},{"s":"PBE0/def2-TZVPD","x":592.4,"y":9},{"s":"PBE0/def2-TZVPD","x":593.2,"y":11},{"s":"PBE0/def2-TZVPD","x":594.0,"y":13},{"s":"PBE0/def2-TZVPD","x":594.5,"y":18},{"s":"PBE0/def2-TZVPD","x":594.9,"y":21},{"s":"PBE0/def2-TZVPD","x":595.3,"y":19},{"s":"PBE0/def2-TZVPD","x":595.8,"y":15},
{"s":"PBE0/Sapporo(DZ)","x":570.0,"y":8},{"s":"PBE0/Sapporo(DZ)","x":570.5,"y":9},{"s":"PBE0/Sapporo(DZ)","x":571.0,"y":11},{"s":"PBE0/Sapporo(DZ)","x":571.5,"y":14},{"s":"PBE0/Sapporo(DZ)","x":572.0,"y":20},{"s":"PBE0/Sapporo(DZ)","x":572.4,"y":27},{"s":"PBE0/Sapporo(DZ)","x":572.8,"y":32},{"s":"PBE0/Sapporo(DZ)","x":573.1,"y":39},{"s":"PBE0/Sapporo(DZ)","x":573.3,"y":47},{"s":"PBE0/Sapporo(DZ)","x":573.5,"y":53},{"s":"PBE0/Sapporo(DZ)","x":573.8,"y":46},{"s":"PBE0/Sapporo(DZ)","x":574.0,"y":42},{"s":"PBE0/Sapporo(DZ)","x":574.3,"y":50},{"s":"PBE0/Sapporo(DZ)","x":574.6,"y":64},{"s":"PBE0/Sapporo(DZ)","x":574.85,"y":72},{"s":"PBE0/Sapporo(DZ)","x":575.0,"y":75},{"s":"PBE0/Sapporo(DZ)","x":575.2,"y":67},{"s":"PBE0/Sapporo(DZ)","x":575.4,"y":59},{"s":"PBE0/Sapporo(DZ)","x":575.55,"y":64},{"s":"PBE0/Sapporo(DZ)","x":575.7,"y":84},{"s":"PBE0/Sapporo(DZ)","x":575.85,"y":102},{"s":"PBE0/Sapporo(DZ)","x":576.0,"y":109},{"s":"PBE0/Sapporo(DZ)","x":576.15,"y":100},{"s":"PBE0/Sapporo(DZ)","x":576.3,"y":82},{"s":"PBE0/Sapporo(DZ)","x":576.45,"y":56},{"s":"PBE0/Sapporo(DZ)","x":576.6,"y":34},{"s":"PBE0/Sapporo(DZ)","x":576.8,"y":19},{"s":"PBE0/Sapporo(DZ)","x":577.0,"y":12},{"s":"PBE0/Sapporo(DZ)","x":577.4,"y":7},{"s":"PBE0/Sapporo(DZ)","x":577.8,"y":6},{"s":"PBE0/Sapporo(DZ)","x":578.5,"y":6},{"s":"PBE0/Sapporo(DZ)","x":579.2,"y":7},{"s":"PBE0/Sapporo(DZ)","x":579.7,"y":11},{"s":"PBE0/Sapporo(DZ)","x":580.0,"y":17},{"s":"PBE0/Sapporo(DZ)","x":580.4,"y":31},{"s":"PBE0/Sapporo(DZ)","x":580.8,"y":32},{"s":"PBE0/Sapporo(DZ)","x":581.2,"y":42},{"s":"PBE0/Sapporo(DZ)","x":581.45,"y":53},{"s":"PBE0/Sapporo(DZ)","x":581.6,"y":58},{"s":"PBE0/Sapporo(DZ)","x":581.8,"y":50},{"s":"PBE0/Sapporo(DZ)","x":582.0,"y":39},{"s":"PBE0/Sapporo(DZ)","x":582.25,"y":42},{"s":"PBE0/Sapporo(DZ)","x":582.5,"y":55},{"s":"PBE0/Sapporo(DZ)","x":582.8,"y":65},{"s":"PBE0/Sapporo(DZ)","x":583.0,"y":56},{"s":"PBE0/Sapporo(DZ)","x":583.2,"y":43},{"s":"PBE0/Sapporo(DZ)","x":583.4,"y":48},{"s":"PBE0/Sapporo(DZ)","x":583.6,"y":62},{"s":"PBE0/Sapporo(DZ)","x":583.9,"y":75},{"s":"PBE0/Sapporo(DZ)","x":584.2,"y":60},{"s":"PBE0/Sapporo(DZ)","x":584.5,"y":42},{"s":"PBE0/Sapporo(DZ)","x":584.8,"y":30},{"s":"PBE0/Sapporo(DZ)","x":585.0,"y":25},{"s":"PBE0/Sapporo(DZ)","x":585.4,"y":16},{"s":"PBE0/Sapporo(DZ)","x":585.8,"y":12},{"s":"PBE0/Sapporo(DZ)","x":586.3,"y":9},{"s":"PBE0/Sapporo(DZ)","x":586.9,"y":9},{"s":"PBE0/Sapporo(DZ)","x":587.5,"y":12},{"s":"PBE0/Sapporo(DZ)","x":588.2,"y":10},{"s":"PBE0/Sapporo(DZ)","x":589.0,"y":7},{"s":"PBE0/Sapporo(DZ)","x":589.8,"y":5},{"s":"PBE0/Sapporo(DZ)","x":590.6,"y":4},{"s":"PBE0/Sapporo(DZ)","x":591.4,"y":6},{"s":"PBE0/Sapporo(DZ)","x":592.2,"y":6},{"s":"PBE0/Sapporo(DZ)","x":593.0,"y":8},{"s":"PBE0/Sapporo(DZ)","x":593.8,"y":9},{"s":"PBE0/Sapporo(DZ)","x":594.6,"y":10},{"s":"PBE0/Sapporo(DZ)","x":595.3,"y":9},{"s":"PBE0/Sapporo(DZ)","x":595.8,"y":10}
],
"p4": [
{"s":"BHandHLYP/aug-cc-pVTZ","x":570.0,"y":9},{"s":"BHandHLYP/aug-cc-pVTZ","x":570.4,"y":12},{"s":"BHandHLYP/aug-cc-pVTZ","x":570.7,"y":16},{"s":"BHandHLYP/aug-cc-pVTZ","x":571.1,"y":22},{"s":"BHandHLYP/aug-cc-pVTZ","x":571.6,"y":27},{"s":"BHandHLYP/aug-cc-pVTZ","x":572.0,"y":31},{"s":"BHandHLYP/aug-cc-pVTZ","x":572.4,"y":33},{"s":"BHandHLYP/aug-cc-pVTZ","x":572.6,"y":28},{"s":"BHandHLYP/aug-cc-pVTZ","x":572.8,"y":22},{"s":"BHandHLYP/aug-cc-pVTZ","x":573.0,"y":18},{"s":"BHandHLYP/aug-cc-pVTZ","x":573.4,"y":21},{"s":"BHandHLYP/aug-cc-pVTZ","x":573.7,"y":26},{"s":"BHandHLYP/aug-cc-pVTZ","x":574.0,"y":33},{"s":"BHandHLYP/aug-cc-pVTZ","x":574.2,"y":39},{"s":"BHandHLYP/aug-cc-pVTZ","x":574.5,"y":51},{"s":"BHandHLYP/aug-cc-pVTZ","x":574.8,"y":57},{"s":"BHandHLYP/aug-cc-pVTZ","x":575.0,"y":70},{"s":"BHandHLYP/aug-cc-pVTZ","x":575.2,"y":86},{"s":"BHandHLYP/aug-cc-pVTZ","x":575.4,"y":80},{"s":"BHandHLYP/aug-cc-pVTZ","x":575.6,"y":70},{"s":"BHandHLYP/aug-cc-pVTZ","x":575.8,"y":90},{"s":"BHandHLYP/aug-cc-pVTZ","x":576.0,"y":108},{"s":"BHandHLYP/aug-cc-pVTZ","x":576.15,"y":98},{"s":"BHandHLYP/aug-cc-pVTZ","x":576.3,"y":80},{"s":"BHandHLYP/aug-cc-pVTZ","x":576.45,"y":55},{"s":"BHandHLYP/aug-cc-pVTZ","x":576.6,"y":33},{"s":"BHandHLYP/aug-cc-pVTZ","x":576.8,"y":17},{"s":"BHandHLYP/aug-cc-pVTZ","x":577.0,"y":10},{"s":"BHandHLYP/aug-cc-pVTZ","x":577.4,"y":6},{"s":"BHandHLYP/aug-cc-pVTZ","x":577.8,"y":5},{"s":"BHandHLYP/aug-cc-pVTZ","x":578.5,"y":6},{"s":"BHandHLYP/aug-cc-pVTZ","x":579.0,"y":9},{"s":"BHandHLYP/aug-cc-pVTZ","x":579.4,"y":15},{"s":"BHandHLYP/aug-cc-pVTZ","x":579.7,"y":24},{"s":"BHandHLYP/aug-cc-pVTZ","x":580.1,"y":37},{"s":"BHandHLYP/aug-cc-pVTZ","x":580.5,"y":29},{"s":"BHandHLYP/aug-cc-pVTZ","x":580.9,"y":32},{"s":"BHandHLYP/aug-cc-pVTZ","x":581.2,"y":25},{"s":"BHandHLYP/aug-cc-pVTZ","x":581.5,"y":18},{"s":"BHandHLYP/aug-cc-pVTZ","x":581.8,"y":24},{"s":"BHandHLYP/aug-cc-pVTZ","x":582.0,"y":34},{"s":"BHandHLYP/aug-cc-pVTZ","x":582.3,"y":45},{"s":"BHandHLYP/aug-cc-pVTZ","x":582.6,"y":62},{"s":"BHandHLYP/aug-cc-pVTZ","x":582.9,"y":82},{"s":"BHandHLYP/aug-cc-pVTZ","x":583.1,"y":70},{"s":"BHandHLYP/aug-cc-pVTZ","x":583.3,"y":59},{"s":"BHandHLYP/aug-cc-pVTZ","x":583.6,"y":75},{"s":"BHandHLYP/aug-cc-pVTZ","x":583.9,"y":99},{"s":"BHandHLYP/aug-cc-pVTZ","x":584.1,"y":80},{"s":"BHandHLYP/aug-cc-pVTZ","x":584.3,"y":57},{"s":"BHandHLYP/aug-cc-pVTZ","x":584.6,"y":17},{"s":"BHandHLYP/aug-cc-pVTZ","x":584.8,"y":8},{"s":"BHandHLYP/aug-cc-pVTZ","x":585.0,"y":3},{"s":"BHandHLYP/aug-cc-pVTZ","x":585.5,"y":2},{"s":"BHandHLYP/aug-cc-pVTZ","x":586.0,"y":2},{"s":"BHandHLYP/aug-cc-pVTZ","x":586.8,"y":3},{"s":"BHandHLYP/aug-cc-pVTZ","x":587.5,"y":6},{"s":"BHandHLYP/aug-cc-pVTZ","x":587.9,"y":7},{"s":"BHandHLYP/aug-cc-pVTZ","x":588.5,"y":5},{"s":"BHandHLYP/aug-cc-pVTZ","x":589.2,"y":5},{"s":"BHandHLYP/aug-cc-pVTZ","x":590.0,"y":7},{"s":"BHandHLYP/aug-cc-pVTZ","x":590.6,"y":4},{"s":"BHandHLYP/aug-cc-pVTZ","x":591.2,"y":2},{"s":"BHandHLYP/aug-cc-pVTZ","x":591.8,"y":3},{"s":"BHandHLYP/aug-cc-pVTZ","x":592.6,"y":6},{"s":"BHandHLYP/aug-cc-pVTZ","x":593.3,"y":3},{"s":"BHandHLYP/aug-cc-pVTZ","x":594.0,"y":2},{"s":"BHandHLYP/aug-cc-pVTZ","x":594.6,"y":4},{"s":"BHandHLYP/aug-cc-pVTZ","x":595.2,"y":2},{"s":"BHandHLYP/aug-cc-pVTZ","x":595.8,"y":5},
{"s":"BHandHLYP/def2-TZVPD","x":570.0,"y":9},{"s":"BHandHLYP/def2-TZVPD","x":570.4,"y":12},{"s":"BHandHLYP/def2-TZVPD","x":570.7,"y":16},{"s":"BHandHLYP/def2-TZVPD","x":571.1,"y":22},{"s":"BHandHLYP/def2-TZVPD","x":571.6,"y":27},{"s":"BHandHLYP/def2-TZVPD","x":572.0,"y":31},{"s":"BHandHLYP/def2-TZVPD","x":572.4,"y":33},{"s":"BHandHLYP/def2-TZVPD","x":572.6,"y":28},{"s":"BHandHLYP/def2-TZVPD","x":572.8,"y":22},{"s":"BHandHLYP/def2-TZVPD","x":573.0,"y":18},{"s":"BHandHLYP/def2-TZVPD","x":573.4,"y":20},{"s":"BHandHLYP/def2-TZVPD","x":573.7,"y":24},{"s":"BHandHLYP/def2-TZVPD","x":574.0,"y":31},{"s":"BHandHLYP/def2-TZVPD","x":574.2,"y":37},{"s":"BHandHLYP/def2-TZVPD","x":574.5,"y":49},{"s":"BHandHLYP/def2-TZVPD","x":574.8,"y":56},{"s":"BHandHLYP/def2-TZVPD","x":575.0,"y":69},{"s":"BHandHLYP/def2-TZVPD","x":575.2,"y":85},{"s":"BHandHLYP/def2-TZVPD","x":575.4,"y":79},{"s":"BHandHLYP/def2-TZVPD","x":575.6,"y":70},{"s":"BHandHLYP/def2-TZVPD","x":575.8,"y":90},{"s":"BHandHLYP/def2-TZVPD","x":576.0,"y":108},{"s":"BHandHLYP/def2-TZVPD","x":576.15,"y":98},{"s":"BHandHLYP/def2-TZVPD","x":576.3,"y":80},{"s":"BHandHLYP/def2-TZVPD","x":576.45,"y":55},{"s":"BHandHLYP/def2-TZVPD","x":576.6,"y":33},{"s":"BHandHLYP/def2-TZVPD","x":576.8,"y":17},{"s":"BHandHLYP/def2-TZVPD","x":577.0,"y":10},{"s":"BHandHLYP/def2-TZVPD","x":577.4,"y":6},{"s":"BHandHLYP/def2-TZVPD","x":577.8,"y":5},{"s":"BHandHLYP/def2-TZVPD","x":578.5,"y":6},{"s":"BHandHLYP/def2-TZVPD","x":579.0,"y":9},{"s":"BHandHLYP/def2-TZVPD","x":579.4,"y":15},{"s":"BHandHLYP/def2-TZVPD","x":579.7,"y":23},{"s":"BHandHLYP/def2-TZVPD","x":580.1,"y":34},{"s":"BHandHLYP/def2-TZVPD","x":580.5,"y":28},{"s":"BHandHLYP/def2-TZVPD","x":580.9,"y":33},{"s":"BHandHLYP/def2-TZVPD","x":581.2,"y":24},{"s":"BHandHLYP/def2-TZVPD","x":581.5,"y":16},{"s":"BHandHLYP/def2-TZVPD","x":581.8,"y":22},{"s":"BHandHLYP/def2-TZVPD","x":582.0,"y":32},{"s":"BHandHLYP/def2-TZVPD","x":582.3,"y":43},{"s":"BHandHLYP/def2-TZVPD","x":582.6,"y":58},{"s":"BHandHLYP/def2-TZVPD","x":582.9,"y":75},{"s":"BHandHLYP/def2-TZVPD","x":583.1,"y":66},{"s":"BHandHLYP/def2-TZVPD","x":583.3,"y":58},{"s":"BHandHLYP/def2-TZVPD","x":583.6,"y":73},{"s":"BHandHLYP/def2-TZVPD","x":583.9,"y":96},{"s":"BHandHLYP/def2-TZVPD","x":584.1,"y":78},{"s":"BHandHLYP/def2-TZVPD","x":584.3,"y":50},{"s":"BHandHLYP/def2-TZVPD","x":584.6,"y":15},{"s":"BHandHLYP/def2-TZVPD","x":584.8,"y":6},{"s":"BHandHLYP/def2-TZVPD","x":585.0,"y":3},{"s":"BHandHLYP/def2-TZVPD","x":585.6,"y":2},{"s":"BHandHLYP/def2-TZVPD","x":586.3,"y":2},{"s":"BHandHLYP/def2-TZVPD","x":587.0,"y":3},{"s":"BHandHLYP/def2-TZVPD","x":587.6,"y":5},{"s":"BHandHLYP/def2-TZVPD","x":588.2,"y":9},{"s":"BHandHLYP/def2-TZVPD","x":588.7,"y":5},{"s":"BHandHLYP/def2-TZVPD","x":589.3,"y":6},{"s":"BHandHLYP/def2-TZVPD","x":590.0,"y":5},{"s":"BHandHLYP/def2-TZVPD","x":590.7,"y":4},{"s":"BHandHLYP/def2-TZVPD","x":591.4,"y":3},{"s":"BHandHLYP/def2-TZVPD","x":592.0,"y":4},{"s":"BHandHLYP/def2-TZVPD","x":592.6,"y":6},{"s":"BHandHLYP/def2-TZVPD","x":593.2,"y":3},{"s":"BHandHLYP/def2-TZVPD","x":594.0,"y":2},{"s":"BHandHLYP/def2-TZVPD","x":594.7,"y":4},{"s":"BHandHLYP/def2-TZVPD","x":595.3,"y":3},{"s":"BHandHLYP/def2-TZVPD","x":595.8,"y":4},
{"s":"BHandHLYP/Sapporo(DZ)","x":570.0,"y":8},{"s":"BHandHLYP/Sapporo(DZ)","x":570.4,"y":11},{"s":"BHandHLYP/Sapporo(DZ)","x":570.7,"y":15},{"s":"BHandHLYP/Sapporo(DZ)","x":571.1,"y":21},{"s":"BHandHLYP/Sapporo(DZ)","x":571.6,"y":26},{"s":"BHandHLYP/Sapporo(DZ)","x":572.0,"y":30},{"s":"BHandHLYP/Sapporo(DZ)","x":572.4,"y":32},{"s":"BHandHLYP/Sapporo(DZ)","x":572.6,"y":28},{"s":"BHandHLYP/Sapporo(DZ)","x":572.8,"y":21},{"s":"BHandHLYP/Sapporo(DZ)","x":573.0,"y":17},{"s":"BHandHLYP/Sapporo(DZ)","x":573.4,"y":19},{"s":"BHandHLYP/Sapporo(DZ)","x":573.7,"y":23},{"s":"BHandHLYP/Sapporo(DZ)","x":574.0,"y":30},{"s":"BHandHLYP/Sapporo(DZ)","x":574.2,"y":36},{"s":"BHandHLYP/Sapporo(DZ)","x":574.5,"y":48},{"s":"BHandHLYP/Sapporo(DZ)","x":574.8,"y":55},{"s":"BHandHLYP/Sapporo(DZ)","x":575.0,"y":68},{"s":"BHandHLYP/Sapporo(DZ)","x":575.2,"y":84},{"s":"BHandHLYP/Sapporo(DZ)","x":575.4,"y":79},{"s":"BHandHLYP/Sapporo(DZ)","x":575.6,"y":70},{"s":"BHandHLYP/Sapporo(DZ)","x":575.8,"y":89},{"s":"BHandHLYP/Sapporo(DZ)","x":576.0,"y":107},{"s":"BHandHLYP/Sapporo(DZ)","x":576.15,"y":97},{"s":"BHandHLYP/Sapporo(DZ)","x":576.3,"y":79},{"s":"BHandHLYP/Sapporo(DZ)","x":576.45,"y":54},{"s":"BHandHLYP/Sapporo(DZ)","x":576.6,"y":32},{"s":"BHandHLYP/Sapporo(DZ)","x":576.8,"y":16},{"s":"BHandHLYP/Sapporo(DZ)","x":577.0,"y":9},{"s":"BHandHLYP/Sapporo(DZ)","x":577.4,"y":5},{"s":"BHandHLYP/Sapporo(DZ)","x":577.8,"y":5},{"s":"BHandHLYP/Sapporo(DZ)","x":578.5,"y":6},{"s":"BHandHLYP/Sapporo(DZ)","x":579.0,"y":8},{"s":"BHandHLYP/Sapporo(DZ)","x":579.4,"y":14},{"s":"BHandHLYP/Sapporo(DZ)","x":579.7,"y":22},{"s":"BHandHLYP/Sapporo(DZ)","x":580.1,"y":33},{"s":"BHandHLYP/Sapporo(DZ)","x":580.5,"y":28},{"s":"BHandHLYP/Sapporo(DZ)","x":580.9,"y":34},{"s":"BHandHLYP/Sapporo(DZ)","x":581.2,"y":24},{"s":"BHandHLYP/Sapporo(DZ)","x":581.5,"y":15},{"s":"BHandHLYP/Sapporo(DZ)","x":581.8,"y":21},{"s":"BHandHLYP/Sapporo(DZ)","x":582.0,"y":31},{"s":"BHandHLYP/Sapporo(DZ)","x":582.3,"y":42},{"s":"BHandHLYP/Sapporo(DZ)","x":582.6,"y":57},{"s":"BHandHLYP/Sapporo(DZ)","x":582.9,"y":73},{"s":"BHandHLYP/Sapporo(DZ)","x":583.1,"y":65},{"s":"BHandHLYP/Sapporo(DZ)","x":583.3,"y":57},{"s":"BHandHLYP/Sapporo(DZ)","x":583.6,"y":72},{"s":"BHandHLYP/Sapporo(DZ)","x":583.9,"y":95},{"s":"BHandHLYP/Sapporo(DZ)","x":584.1,"y":77},{"s":"BHandHLYP/Sapporo(DZ)","x":584.3,"y":50},{"s":"BHandHLYP/Sapporo(DZ)","x":584.6,"y":15},{"s":"BHandHLYP/Sapporo(DZ)","x":584.8,"y":6},{"s":"BHandHLYP/Sapporo(DZ)","x":585.0,"y":3},{"s":"BHandHLYP/Sapporo(DZ)","x":585.6,"y":2},{"s":"BHandHLYP/Sapporo(DZ)","x":586.3,"y":2},{"s":"BHandHLYP/Sapporo(DZ)","x":587.0,"y":3},{"s":"BHandHLYP/Sapporo(DZ)","x":587.6,"y":5},{"s":"BHandHLYP/Sapporo(DZ)","x":588.2,"y":7},{"s":"BHandHLYP/Sapporo(DZ)","x":588.7,"y":5},{"s":"BHandHLYP/Sapporo(DZ)","x":589.3,"y":6},{"s":"BHandHLYP/Sapporo(DZ)","x":590.0,"y":5},{"s":"BHandHLYP/Sapporo(DZ)","x":590.7,"y":3},{"s":"BHandHLYP/Sapporo(DZ)","x":591.4,"y":3},{"s":"BHandHLYP/Sapporo(DZ)","x":592.0,"y":4},{"s":"BHandHLYP/Sapporo(DZ)","x":592.6,"y":5},{"s":"BHandHLYP/Sapporo(DZ)","x":593.2,"y":3},{"s":"BHandHLYP/Sapporo(DZ)","x":594.0,"y":2},{"s":"BHandHLYP/Sapporo(DZ)","x":594.7,"y":3},{"s":"BHandHLYP/Sapporo(DZ)","x":595.3,"y":3},{"s":"BHandHLYP/Sapporo(DZ)","x":595.8,"y":4}
]
},
"vconcat": [
{
 "width": 576, "height": 120,
 "data": {"name": "p1"},
 "layer": [
  {"mark": {"type": "line", "strokeWidth": 3, "clip": true},
   "encoding": {
    "x": {"field": "x", "type": "quantitative", "scale": {"domain": [570, 595.76], "nice": false, "zero": false}, "axis": {"orient": "bottom", "values": [570, 575, 580, 585, 590, 595], "labels": false, "grid": true, "title": null}},
    "y": {"field": "y", "type": "quantitative", "scale": {"domain": [0, 120]}, "axis": null},
    "color": {"field": "s", "type": "nominal", "scale": {"domain": ["Experiment"], "range": ["black"]}, "legend": {"title": null}}
   }},
  {"mark": {"type": "line", "opacity": 0},
   "encoding": {
    "x": {"field": "x", "type": "quantitative", "axis": {"orient": "top", "values": [570, 575, 580, 585, 590, 595], "labels": false, "grid": false, "title": null}},
    "y": {"field": "y", "type": "quantitative", "axis": null}
   }}
 ],
 "resolve": {"axis": {"x": "independent"}}
},
{
 "width": 576, "height": 120,
 "data": {"name": "p2"},
 "layer": [
  {"mark": {"type": "line", "strokeWidth": 3, "interpolate": "monotone", "clip": true, "opacity": 0.9},
   "encoding": {
    "x": {"field": "x", "type": "quantitative", "scale": {"domain": [570, 595.76], "nice": false, "zero": false}, "axis": {"orient": "bottom", "values": [570, 575, 580, 585, 590, 595], "labels": false, "grid": true, "title": null}},
    "y": {"field": "y", "type": "quantitative", "scale": {"domain": [0, 120]}, "axis": null},
    "color": {"field": "s", "type": "nominal", "scale": {"domain": ["B3LYP/aug-cc-pVTZ", "B3LYP/def2-TZVPD", "B3LYP/Sapporo(DZ)"], "range": ["#c0302a", "#ea6a3c", "#efa24e"]}, "legend": {"title": null}},
    "strokeDash": {"field": "s", "type": "nominal", "scale": {"domain": ["B3LYP/aug-cc-pVTZ", "B3LYP/def2-TZVPD", "B3LYP/Sapporo(DZ)"], "range": [[1, 0], [7, 5], [3, 5, 1, 5]]}, "legend": {"title": null}}
   }},
  {"mark": {"type": "line", "opacity": 0},
   "encoding": {
    "x": {"field": "x", "type": "quantitative", "axis": {"orient": "top", "values": [570, 575, 580, 585, 590, 595], "labels": false, "grid": false, "title": null}},
    "y": {"field": "y", "type": "quantitative", "axis": null}
   }}
 ],
 "resolve": {"axis": {"x": "independent"}}
},
{
 "width": 576, "height": 120,
 "data": {"name": "p3"},
 "layer": [
  {"mark": {"type": "line", "strokeWidth": 3, "interpolate": "monotone", "clip": true, "opacity": 0.9},
   "encoding": {
    "x": {"field": "x", "type": "quantitative", "scale": {"domain": [570, 595.76], "nice": false, "zero": false}, "axis": {"orient": "bottom", "values": [570, 575, 580, 585, 590, 595], "labels": false, "grid": true, "title": null}},
    "y": {"field": "y", "type": "quantitative", "scale": {"domain": [0, 120]}, "axis": null},
    "color": {"field": "s", "type": "nominal", "scale": {"domain": ["PBE0/aug-cc-pVTZ", "PBE0/def2-TZVPD", "PBE0/Sapporo(DZ)"], "range": ["#bdbd3c", "#6db77b", "#4aa3b6"]}, "legend": {"title": null}},
    "strokeDash": {"field": "s", "type": "nominal", "scale": {"domain": ["PBE0/aug-cc-pVTZ", "PBE0/def2-TZVPD", "PBE0/Sapporo(DZ)"], "range": [[1, 0], [7, 5], [3, 5, 1, 5]]}, "legend": {"title": null}}
   }},
  {"mark": {"type": "line", "opacity": 0},
   "encoding": {
    "x": {"field": "x", "type": "quantitative", "axis": {"orient": "top", "values": [570, 575, 580, 585, 590, 595], "labels": false, "grid": false, "title": null}},
    "y": {"field": "y", "type": "quantitative", "axis": null}
   }}
 ],
 "resolve": {"axis": {"x": "independent"}}
},
{
 "width": 576, "height": 120,
 "data": {"name": "p4"},
 "layer": [
  {"mark": {"type": "line", "strokeWidth": 3, "interpolate": "monotone", "clip": true, "opacity": 0.9},
   "encoding": {
    "x": {"field": "x", "type": "quantitative", "scale": {"domain": [570, 595.76], "nice": false, "zero": false}, "axis": {"orient": "bottom", "values": [570, 575, 580, 585, 590, 595], "labels": true, "labelPadding": 6, "grid": true, "title": "Energy (eV)", "titlePadding": 8}},
    "y": {"field": "y", "type": "quantitative", "scale": {"domain": [0, 120]}, "axis": null},
    "color": {"field": "s", "type": "nominal", "scale": {"domain": ["BHandHLYP/aug-cc-pVTZ", "BHandHLYP/def2-TZVPD", "BHandHLYP/Sapporo(DZ)"], "range": ["#4a8fd2", "#5a50aa", "#a362ba"]}, "legend": {"title": null}},
    "strokeDash": {"field": "s", "type": "nominal", "scale": {"domain": ["BHandHLYP/aug-cc-pVTZ", "BHandHLYP/def2-TZVPD", "BHandHLYP/Sapporo(DZ)"], "range": [[1, 0], [7, 5], [3, 5, 1, 5]]}, "legend": {"title": null}}
   }},
  {"mark": {"type": "line", "opacity": 0},
   "encoding": {
    "x": {"field": "x", "type": "quantitative", "axis": {"orient": "top", "values": [570, 575, 580, 585, 590, 595], "labels": false, "grid": false, "title": null}},
    "y": {"field": "y", "type": "quantitative", "axis": null}
   }}
 ],
 "resolve": {"axis": {"x": "independent"}}
}
],
"resolve": {"scale": {"color": "independent", "strokeDash": "independent", "x": "independent", "y": "independent"}, "legend": {"color": "independent", "strokeDash": "independent"}}
}
